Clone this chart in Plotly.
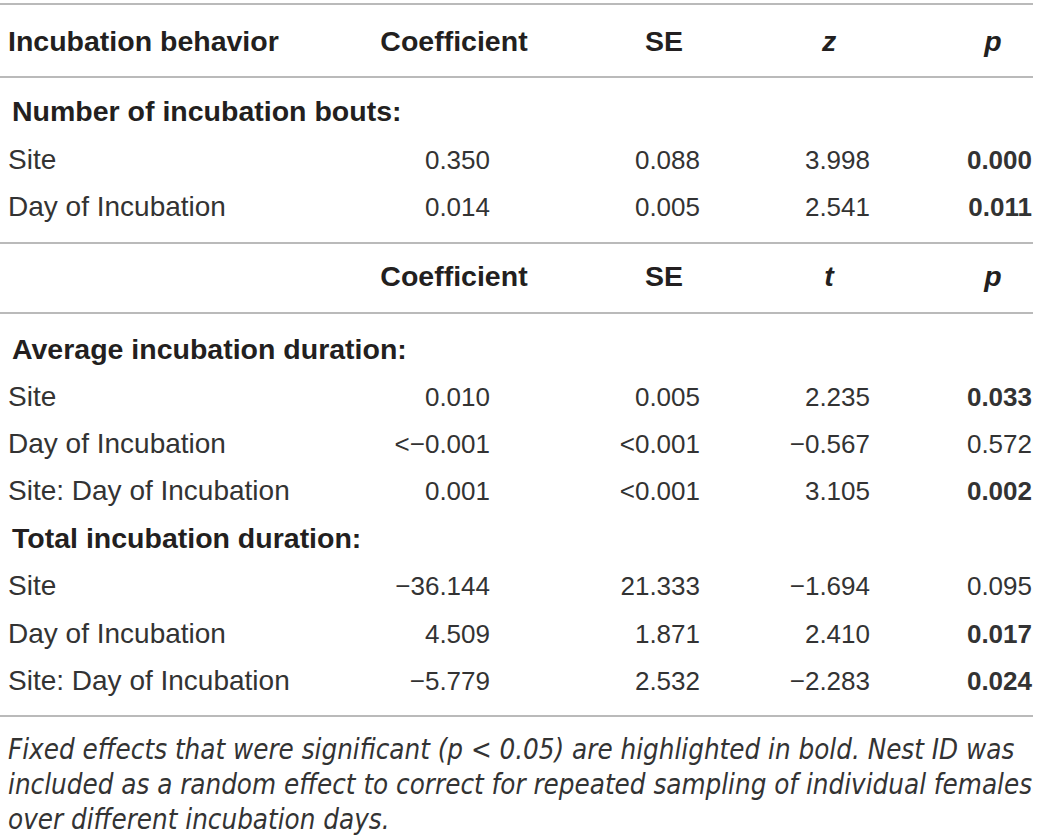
import plotly.graph_objects as go

# table content
groups = ["Number of incubation bouts:", "Average incubation duration:", "Total incubation duration:"]
row_labels = ["Site", "Day of Incubation",
              "Site", "Day of Incubation", "Site: Day of Incubation",
              "Site", "Day of Incubation", "Site: Day of Incubation"]
coef = ["0.350", "0.014", "0.010", "<\u22120.001", "0.001", "\u221236.144", "4.509", "\u22125.779"]
se = ["0.088", "0.005", "0.005", "<0.001", "<0.001", "21.333", "1.871", "2.532"]
stat = ["3.998", "2.541", "2.235", "\u22120.567", "3.105", "\u22121.694", "2.410", "\u22122.283"]
pval = ["0.000", "0.011", "0.033", "0.572", "0.002", "0.095", "0.017", "0.024"]
header1 = ["Coefficient", "SE", "<i>z</i>", "<i>p</i>"]
header2 = ["Coefficient", "SE", "<i>t</i>", "<i>p</i>"]
caption = [
    "Fixed effects that were significant (p < 0.05) are highlighted in bold. Nest ID was",
    "included as a random effect to correct for repeated sampling of individual females",
    "over different incubation days.",
]

TXT = "#231f20"
RULE = "#a3a3a3"
FONT = "Liberation Sans, Arial, Helvetica, sans-serif"
CAP_FONT = "Liberation Sans Narrow, DejaVu Sans Condensed, Liberation Sans"

# positions in pixels on the 1040 x 839 canvas
y_head1, y_head2 = 42, 277
y_group = [112, 350, 539]
y_rows = [160, 207, 397, 444, 491, 586, 634, 681]
y_rules = [4, 77, 243, 313, 716]
y_caption = [750, 785, 820]
x_label, x_group = 8, 12
x_cols = [490, 700, 870, 1032]      # right edges of numeric columns
x_heads = [454, 664, 829, 993]      # centres of column headers
DY = 2                              # text sits a touch high when centred


def txt(x, y, text, pos, size, family=FONT, color=TXT):
    return go.Scatter(x=x, y=[v + DY for v in y], text=text, mode="text", textposition=pos,
                      textfont=dict(family=family, size=size, color=color),
                      cliponaxis=False, hoverinfo="skip")


fig = go.Figure()

# header rows
fig.add_trace(txt([x_label], [y_head1], ["<b>Incubation behavior</b>"], "middle right", 28.5))
fig.add_trace(txt(x_heads, [y_head1] * 4, ["<b>%s</b>" % h for h in header1], "middle center", 28.5))
fig.add_trace(txt(x_heads, [y_head2] * 4, ["<b>%s</b>" % h for h in header2], "middle center", 28.5))

# group titles
fig.add_trace(txt([x_group] * len(groups), y_group, ["<b>%s</b>" % g for g in groups],
                  "middle right", 28.5))

# row labels
fig.add_trace(txt([x_label] * len(row_labels), y_rows, row_labels, "middle right", 28,
                  color="#333333"))

# numeric columns, right aligned; significant p values in bold
p_text = ["<b>%s</b>" % p if float(p) < 0.05 else p for p in pval]
for xc, col in zip(x_cols, [coef, se, stat, p_text]):
    fig.add_trace(txt([xc] * len(col), y_rows, col, "middle left", 26, color="#333333"))

# footnote
fig.add_trace(txt([x_label] * len(caption), y_caption, ["<i>%s</i>" % c for c in caption],
                  "middle right", 27.5, CAP_FONT, color="#333333"))

for yr in y_rules:
    fig.add_shape(type="line", x0=0, x1=1033, y0=yr, y1=yr,
                  line=dict(color=RULE, width=1.5), xref="x", yref="y")

fig.update_layout(
    width=1040, height=839,
    margin=dict(l=0, r=0, t=0, b=0),
    paper_bgcolor="white", plot_bgcolor="white",
    showlegend=False,
    xaxis=dict(range=[0, 1040], visible=False, fixedrange=True),
    yaxis=dict(range=[839, 0], visible=False, fixedrange=True),
)

fig.write_html("out.html", config={"displayModeBar": False},
               post_script="document.body.style.margin='0';")
